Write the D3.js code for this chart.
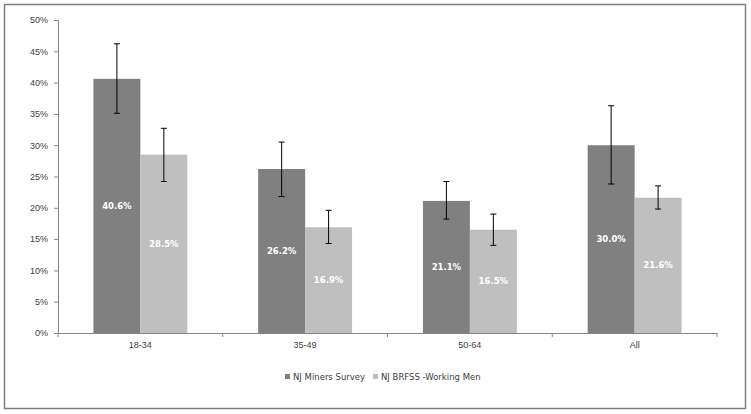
<!DOCTYPE html>
<html>
<head>
<meta charset="utf-8">
<script src="https://cdn.jsdelivr.net/npm/d3@7"></script>
<style>
  body { margin: 0; background: #fff; }
  svg { display: block; font-family: "DejaVu Sans", "Liberation Sans", sans-serif; }
</style>
</head>
<body>
<div id="chart"></div>
<script>
"use strict";
const categories = ["18-34", "35-49", "50-64", "All"];
const seriesNames = ["NJ Miners Survey", "NJ BRFSS -Working Men"];
const miners = [40.6, 26.2, 21.1, 30.0];
const minersLow = [35.1, 21.8, 18.2, 23.8];
const minersHigh = [46.2, 30.5, 24.2, 36.3];
const brfss = [28.5, 16.9, 16.5, 21.6];
const brfssLow = [24.2, 14.3, 14.0, 19.8];
const brfssHigh = [32.7, 19.6, 19.0, 23.5];
const yTicks = [0, 5, 10, 15, 20, 25, 30, 35, 40, 45, 50];
const colors = ["#808080", "#bfbfbf"];

(function() {
    const width = 751, height = 414;
    const plot = {left: 58, right: 717, top: 20, bottom: 333};

    const svg = d3.select("#chart").append("svg")
        .attr("width", width)
        .attr("height", height);

    // outer frame
    svg.append("rect")
        .attr("x", 4.5).attr("y", 4.5)
        .attr("width", 741).attr("height", 404)
        .attr("fill", "#fff")
        .attr("stroke", "#7f7f7f")
        .attr("stroke-width", 1.5);

    const x0 = d3.scaleBand()
        .domain(categories)
        .range([plot.left, plot.right])
        .paddingInner(0.43)
        .paddingOuter(0.215);
    const x1 = d3.scaleBand()
        .domain([0, 1])
        .range([0, x0.bandwidth()]);
    const y = d3.scaleLinear()
        .domain([0, 50])
        .range([plot.bottom, plot.top]);

    // y axis
    const yAxis = svg.append("g")
        .attr("transform", "translate(" + plot.left + ",0)")
        .call(d3.axisLeft(y).tickValues(yTicks).tickSize(4).tickPadding(6)
            .tickFormat(d => d + "%"));
    yAxis.selectAll("path, line").attr("stroke", "#868686");
    yAxis.selectAll("text").attr("fill", "#404040").style("font-size", "9px");

    const rows = categories.map((c, i) => ({
        cat: c,
        vals: [
            {s: 0, v: miners[i], lo: minersLow[i], hi: minersHigh[i]},
            {s: 1, v: brfss[i], lo: brfssLow[i], hi: brfssHigh[i]}
        ]
    }));

    const groups = svg.selectAll(".grp")
        .data(rows)
        .enter()
        .append("g")
            .attr("transform", d => "translate(" + x0(d.cat) + ",0)");

    const items = groups.selectAll(".item")
        .data(d => d.vals)
        .enter()
        .append("g");

    items.append("rect")
        .attr("x", d => x1(d.s))
        .attr("y", d => y(d.v))
        .attr("width", x1.bandwidth())
        .attr("height", d => y(0) - y(d.v))
        .attr("fill", d => colors[d.s]);

    items.append("text")
        .attr("x", d => x1(d.s) + x1.bandwidth() / 2)
        .attr("y", d => (y(d.v) + y(0)) / 2 + 3)
        .attr("text-anchor", "middle")
        .attr("fill", "#fff")
        .style("font-size", "8.5px")
        .style("font-weight", "bold")
        .text(d => d.v.toFixed(1) + "%");

    // error bars
    const cap = 3;
    items.append("line")
        .attr("x1", d => x1(d.s) + x1.bandwidth() / 2)
        .attr("x2", d => x1(d.s) + x1.bandwidth() / 2)
        .attr("y1", d => y(d.hi))
        .attr("y2", d => y(d.lo))
        .attr("stroke", "#000").attr("stroke-width", 1);
    items.append("line")
        .attr("x1", d => x1(d.s) + x1.bandwidth() / 2 - cap)
        .attr("x2", d => x1(d.s) + x1.bandwidth() / 2 + cap)
        .attr("y1", d => y(d.hi)).attr("y2", d => y(d.hi))
        .attr("stroke", "#000").attr("stroke-width", 1);
    items.append("line")
        .attr("x1", d => x1(d.s) + x1.bandwidth() / 2 - cap)
        .attr("x2", d => x1(d.s) + x1.bandwidth() / 2 + cap)
        .attr("y1", d => y(d.lo)).attr("y2", d => y(d.lo))
        .attr("stroke", "#000").attr("stroke-width", 1);

    // x axis
    const xAxis = svg.append("g")
        .attr("transform", "translate(0," + plot.bottom + ")")
        .call(d3.axisBottom(x0).tickSize(0).tickPadding(9));
    xAxis.select("path").attr("stroke", "#868686");
    xAxis.selectAll("text").attr("fill", "#404040").style("font-size", "9px");
    const step = x0.step();
    const bounds = d3.range(categories.length + 1).map(i => plot.left + i * (plot.right - plot.left) / categories.length);
    xAxis.selectAll(".bound")
        .data(bounds)
        .enter()
        .append("line")
            .attr("x1", d => d).attr("x2", d => d)
            .attr("y1", 0).attr("y2", 4)
            .attr("stroke", "#868686");

    // legend
    const legend = svg.append("g").attr("transform", "translate(285,378)");
    const lx = [0, 88];
    seriesNames.forEach((name, i) => {
        legend.append("rect")
            .attr("x", lx[i]).attr("y", -4)
            .attr("width", 5).attr("height", 5)
            .attr("fill", colors[i]);
        legend.append("text")
            .attr("x", lx[i] + 8).attr("y", 1.5)
            .attr("fill", "#404040")
            .style("font-size", "8.5px")
            .text(name);
    });
})();
</script>
</body>
</html>
